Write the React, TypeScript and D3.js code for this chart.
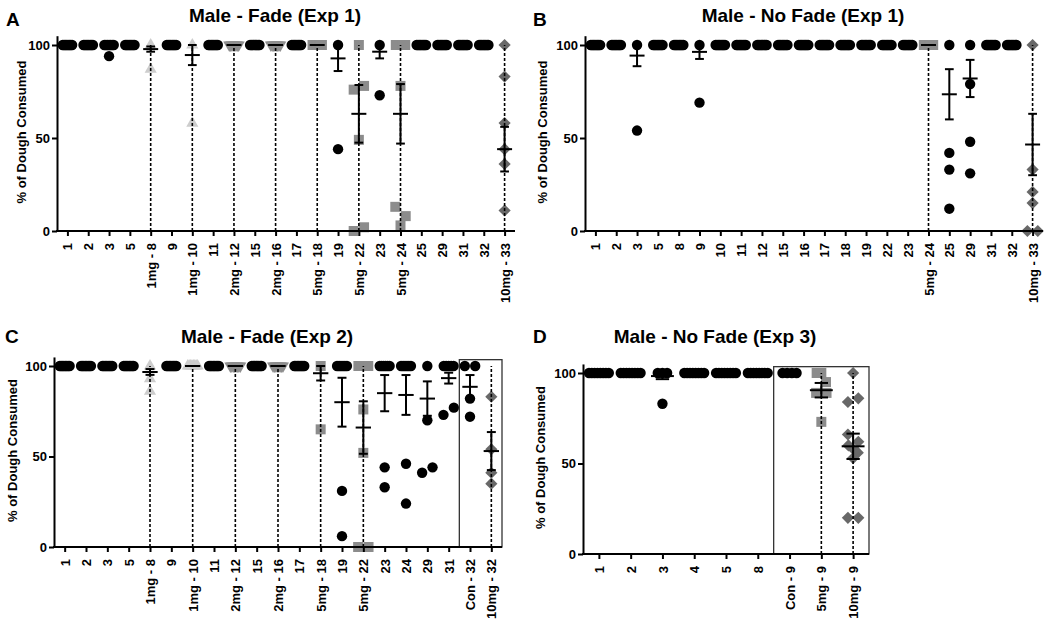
import React, { useEffect, useRef } from 'react';
import * as d3 from 'd3';

// every animal ate all of the dough
const ALL = [100, 100, 100, 100, 100, 100, 100, 100];

// Panel A - Male, Fade (Exp 1)
const catsA = ["1", "2", "3", "5", "1mg - 8", "9", "1mg - 10", "11", "2mg - 12", "15", "2mg - 16", "17", "5mg - 18", "19", "5mg - 22", "23", "5mg - 24", "25", "29", "31", "32", "10mg - 33"];
const pointsA = [ALL, ALL, [100, 100, 100, 100, 100, 100, 100, 94], ALL, [100, 87], ALL, [100, 58], ALL, ALL, ALL, ALL, ALL, ALL, [100, 44], [100, 76, 78, 49, 0, 2], [100, 73], [100, 100, 100, 100, 78, 13, 8, 3], ALL, ALL, ALL, ALL, [100, 83, 58, 44, 36, 11]];
const meansA = [100, 100, 99.3, 100, 97.8, 100, 94.6, 100, 100, 100, 100, 100, 100, 92.8, 63, 96.4, 63, 100, 100, 100, 100, 44];
const semsA = [0, 0, 0.7, 0, 1.4, 0, 5.4, 0, 0, 0, 0, 0, 0, 6.8, 15.5, 3.6, 16, 0, 0, 0, 0, 12];

// Panel B - Male, No Fade (Exp 1)
const catsB = ["1", "2", "3", "5", "8", "9", "10", "11", "12", "15", "16", "17", "18", "19", "22", "23", "5mg - 24", "25", "29", "31", "32", "10mg - 33"];
const pointsB = [ALL, ALL, [100, 54], ALL, ALL, [100, 69], ALL, ALL, ALL, ALL, ALL, ALL, ALL, ALL, ALL, ALL, ALL, [100, 42, 33, 12], [100, 79, 48, 31], ALL, ALL, [100, 33, 21, 15, 0, 0]];
const meansB = [100, 100, 94.3, 100, 100, 96.3, 100, 100, 100, 100, 100, 100, 100, 100, 100, 100, 100, 73.5, 82, 100, 100, 46.5];
const semsB = [0, 0, 5.7, 0, 0, 3.8, 0, 0, 0, 0, 0, 0, 0, 0, 0, 0, 0, 13.5, 10, 0, 0, 16.5];

// Panel C - Male, Fade (Exp 2)
const catsC = ["1", "2", "3", "5", "1mg - 8", "9", "1mg - 10", "11", "2mg - 12", "15", "2mg - 16", "17", "5mg - 18", "19", "5mg - 22", "23", "24", "29", "31", "Con - 32", "10mg - 32"];
const pointsC = [ALL, ALL, ALL, ALL, [100, 93, 86], ALL, ALL, ALL, ALL, ALL, ALL, ALL, [100, 65], [100, 100, 100, 100, 100, 100, 31, 6], [100, 100, 100, 100, 76, 52, 0, 0], [100, 100, 100, 100, 100, 100, 44, 33], [100, 100, 100, 100, 100, 100, 46, 24], [100, 70, 41, 44], [100, 100, 100, 100, 100, 73, 77], [100, 100, 82, 72], [83, 54, 41, 35]];
const meansC = [100, 100, 100, 100, 96.7, 100, 100, 100, 100, 100, 100, 100, 96, 80, 66, 85, 84, 82, 93.3, 88.5, 53];
const semsC = [0, 0, 0, 0, 1.6, 0, 0, 0, 0, 0, 0, 0, 4, 13.5, 14.5, 10, 11, 9.5, 3, 6.5, 10.5];

// Panel D - Male, No Fade (Exp 3)
const catsD = ["1", "2", "3", "4", "5", "8", "Con - 9", "5mg - 9", "10mg - 9"];
const pointsD = [ALL, ALL, [100, 100, 100, 83], ALL, ALL, ALL, [100, 100, 100, 100], [100, 100, 95, 89, 89, 73], [100, 84, 86, 66, 62, 60, 58, 56, 53, 20, 20]];
const meansD = [100, 100, 98.3, 100, 100, 100, 100, 90.5, 59.5];
const semsD = [0, 0, 1.7, 0, 0, 0, 0, 4, 7];

const yTicks = [0, 50, 100];
const yLabel = "% of Dough Consumed";

const panels = [
  { letter: "A", title: "Male - Fade (Exp 1)", cats: catsA, points: pointsA, means: meansA, sems: semsA, left: 57, right: 515, bottom: 231, top100: 45, titleX: 275, titleY: 22, letterX: 6, letterY: 26, labelOff: 31, boxFrom: null },
  { letter: "B", title: "Male - No Fade (Exp 1)", cats: catsB, points: pointsB, means: meansB, sems: semsB, left: 585, right: 1043, bottom: 231, top100: 45, titleX: 803, titleY: 22, letterX: 533, letterY: 26, labelOff: 38, boxFrom: null },
  { letter: "C", title: "Male - Fade (Exp 2)", cats: catsC, points: pointsC, means: meansC, sems: semsC, left: 54, right: 502, bottom: 547, top100: 366, titleX: 267, titleY: 343, letterX: 5, letterY: 343, labelOff: 37, boxFrom: "Con - 32" },
  { letter: "D", title: "Male - No Fade (Exp 3)", cats: catsD, points: pointsD, means: meansD, sems: semsD, left: 583, right: 869, bottom: 554, top100: 373, titleX: 715, titleY: 343, letterX: 533, letterY: 343, labelOff: 38, boxFrom: "Con - 9" },
];

const FONT = '"Liberation Sans", Arial, sans-serif';
const R = 5.2;

const markerOf = (cat: string) => {
  if (cat.startsWith("10mg")) return { type: d3.symbolSquare, size: 74, rot: 45, fill: "#686868" };
  if (cat.startsWith("5mg")) return { type: d3.symbolSquare, size: 100, rot: 0, fill: "#8c8c8c" };
  if (cat.startsWith("2mg")) return { type: d3.symbolTriangle, size: 64, rot: 180, fill: "#8e8e8e" };
  if (cat.startsWith("1mg")) return { type: d3.symbolTriangle, size: 64, rot: 0, fill: "#cdcdcd" };
  return { type: d3.symbolCircle, size: Math.PI * R * R, rot: 0, fill: "#000" };
};

// spread points with (nearly) the same value side by side, like a scatter dot plot
const spread = (values: number[], y: any, maxSpread: number) => {
  const order = d3.range(values.length).sort((a, b) => values[b] - values[a]);
  const offsets = new Array(values.length).fill(0);
  let i = 0;
  while (i < order.length) {
    const startY = y(values[order[i]]);
    let j = i + 1;
    while (j < order.length && Math.abs(y(values[order[j]]) - startY) < 10) j++;
    const group = order.slice(i, j).sort((a, b) => a - b);
    const k = group.length;
    const gap = k === 2 ? 2 * R : Math.min(0.9 * R, maxSpread / Math.max(1, k - 1));
    group.forEach((idx, n) => { offsets[idx] = (n - (k - 1) / 2) * gap; });
    i = j;
  }
  return offsets;
};

const App = () => {
  const ref = useRef<SVGSVGElement>(null);

  useEffect(() => {
    const svg = d3.select(ref.current);
    svg.selectAll("*").remove();

    panels.forEach(p => {
      const g = svg.append("g");
      const x = d3.scalePoint().domain(p.cats).range([p.left, p.right]).padding(0.5);
      const step = x.step();
      const y = d3.scaleLinear().domain([0, 105]).range([p.bottom, p.bottom - 1.05 * (p.bottom - p.top100)]);

      // points
      p.cats.forEach((cat, ci) => {
        const m = markerOf(cat);
        const vals = p.points[ci];
        const offs = spread(vals, y, 0.95 * step - 2 * R);
        const sym = d3.symbol().type(m.type).size(m.size);
        g.append("g")
          .selectAll("path")
          .data(vals)
          .join("path")
          .attr("d", sym as any)
          .attr("fill", m.fill)
          .attr("transform", (v, i) => `translate(${(x(cat) as number) + offs[i]},${y(v)}) rotate(${m.rot})`);
      });

      // dashed lines for drug days
      g.append("g")
        .selectAll("line")
        .data(p.cats.filter(c => c.includes("mg")))
        .join("line")
        .attr("x1", c => x(c) as number)
        .attr("x2", c => x(c) as number)
        .attr("y1", y(0))
        .attr("y2", y(100))
        .attr("stroke", "#000")
        .attr("stroke-width", 1.6)
        .attr("stroke-dasharray", "3,2");

      // mean +/- SEM
      const eb = g.append("g").attr("stroke", "#000").attr("stroke-width", 2).attr("fill", "none");
      p.cats.forEach((cat, ci) => {
        const cx = x(cat) as number;
        const mean = p.means[ci];
        const sem = p.sems[ci];
        const mw = 0.36 * step;
        const cw = 0.21 * step;
        eb.append("line").attr("x1", cx).attr("x2", cx).attr("y1", y(mean - sem)).attr("y2", y(mean + sem));
        eb.append("line").attr("x1", cx - mw).attr("x2", cx + mw).attr("y1", y(mean)).attr("y2", y(mean));
        if (sem > 0) {
          eb.append("line").attr("x1", cx - cw).attr("x2", cx + cw).attr("y1", y(mean + sem)).attr("y2", y(mean + sem));
          eb.append("line").attr("x1", cx - cw).attr("x2", cx + cw).attr("y1", y(mean - sem)).attr("y2", y(mean - sem));
        }
      });

      // box around the final test days
      if (p.boxFrom) {
        const bx = (x(p.boxFrom) as number) - step / 2;
        g.append("rect")
          .attr("x", bx)
          .attr("y", y(103.5))
          .attr("width", p.right - bx)
          .attr("height", y(0) - y(103.5))
          .attr("fill", "none")
          .attr("stroke", "#333")
          .attr("stroke-width", 1.3);
      }

      // axes
      const ya = g.append("g")
        .attr("transform", `translate(${p.left},0)`)
        .call(d3.axisLeft(y).tickValues(yTicks).tickSize(5).tickPadding(2).tickSizeOuter(0));
      ya.selectAll("path, line").attr("stroke", "#000").attr("stroke-width", 2);
      ya.selectAll("text")
        .attr("font-family", FONT)
        .attr("font-weight", "bold")
        .attr("font-size", 13)
        .attr("fill", "#000");

      const xa = g.append("g")
        .attr("transform", `translate(0,${p.bottom})`)
        .call(d3.axisBottom(x).tickSize(5).tickSizeOuter(0));
      xa.select(".domain").attr("d", `M${p.left - 1},0H${p.right}`);
      xa.selectAll("path, line").attr("stroke", "#000").attr("stroke-width", 2);
      xa.selectAll("text")
        .attr("font-family", FONT)
        .attr("font-weight", "bold")
        .attr("font-size", 13)
        .attr("fill", "#000")
        .attr("transform", "rotate(-90)")
        .attr("text-anchor", "end")
        .attr("x", -12)
        .attr("y", 0)
        .attr("dy", "0.35em");

      // labels
      g.append("text")
        .attr("transform", `translate(${p.left - p.labelOff},${(p.bottom + p.top100) / 2 - 6}) rotate(-90)`)
        .attr("text-anchor", "middle")
        .attr("font-family", FONT)
        .attr("font-weight", "bold")
        .attr("font-size", 13)
        .text(yLabel);

      g.append("text")
        .attr("x", p.titleX)
        .attr("y", p.titleY)
        .attr("text-anchor", "middle")
        .attr("font-family", FONT)
        .attr("font-weight", "bold")
        .attr("font-size", 19)
        .text(p.title);

      g.append("text")
        .attr("x", p.letterX)
        .attr("y", p.letterY)
        .attr("font-family", FONT)
        .attr("font-weight", "bold")
        .attr("font-size", 19)
        .text(p.letter);
    });
  }, []);

  return (
    <div style={{ position: 'absolute', left: 0, top: 0 }}>
      <svg ref={ref} width={1050} height={626} style={{ display: 'block', background: '#fff' }}></svg>
    </div>
  );
};

export default App;
